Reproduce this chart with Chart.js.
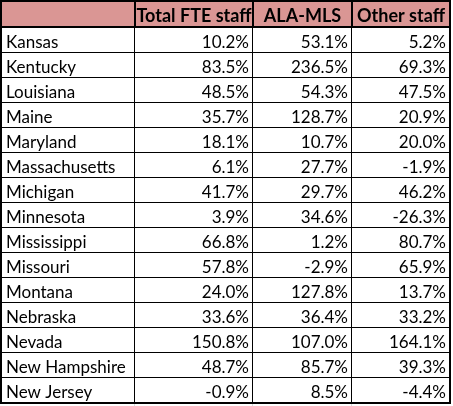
<!DOCTYPE html>
<html>
<head>
<meta charset="utf-8">
<script src="https://cdn.jsdelivr.net/npm/chart.js@4.4.0/dist/chart.umd.min.js"></script>
<style>
html, body { margin: 0; padding: 0; background: #fff; }
</style>
</head>
<body>
<canvas id="table" width="453" height="406"></canvas>
<script>
// 表格数据
const headers = ['', 'Total FTE staff', 'ALA-MLS', 'Other staff'];
const states = ['Kansas', 'Kentucky', 'Louisiana', 'Maine', 'Maryland', 'Massachusetts', 'Michigan',
    'Minnesota', 'Mississippi', 'Missouri', 'Montana', 'Nebraska', 'Nevada', 'New Hampshire', 'New Jersey'];
const totalFte = [10.2, 83.5, 48.5, 35.7, 18.1, 6.1, 41.7, 3.9, 66.8, 57.8, 24.0, 33.6, 150.8, 48.7, -0.9];
const alaMls = [53.1, 236.5, 54.3, 128.7, 10.7, 27.7, 29.7, 34.6, 1.2, -2.9, 127.8, 36.4, 107.0, 85.7, 8.5];
const otherStaff = [5.2, 69.3, 47.5, 20.9, 20.0, -1.9, 46.2, -26.3, 80.7, 65.9, 13.7, 33.2, 164.1, 39.3, -4.4];

// 列边界(x 轴单位)
const colEdges = [0, 134, 252, 351, 449];

// 用坐标轴画表格的插件
const tablePlugin = {
    id: 'tableCells',
    afterDraw(chart, args, opts) {
        const { ctx, scales: { x, y } } = chart;
        const edges = opts.colEdges.map(v => Math.round(x.getPixelForValue(v)));
        const rows = chart.data.labels;
        const rowTop = i => Math.round(y.getPixelForValue(i - 0.5));
        const headBottom = rowTop(0);
        const bottom = rowTop(rows.length);
        const left = edges[0], right = edges[edges.length - 1];

        ctx.save();
        // 表头底色
        ctx.fillStyle = opts.headerColor;
        ctx.fillRect(left, 0, right - left, headBottom);

        // 网格线
        ctx.fillStyle = '#000';
        for (let i = 1; i < rows.length; i++) {
            ctx.fillRect(left, rowTop(i) - 1, right - left, 1);
        }
        for (let c = 1; c < edges.length - 1; c++) {
            ctx.fillRect(edges[c] - 1, headBottom, 1, bottom - headBottom);
            ctx.fillRect(edges[c] - 1, 0, 2, headBottom);
        }
        // 外框与表头下边
        ctx.fillRect(left - 1, 0, right - left + 2, 2);
        ctx.fillRect(left - 1, headBottom - 2, right - left + 2, 2);
        ctx.fillRect(left - 1, 0, 2, bottom + 1);
        ctx.fillRect(right - 1, 0, 2, bottom + 1);
        ctx.fillRect(left - 1, bottom - 1, right - left + 2, 2);

        // 表格外的浅灰网格
        ctx.fillStyle = '#d9d9d9';
        for (let c = 1; c < edges.length - 1; c++) {
            ctx.fillRect(edges[c] - 1, bottom + 1, 1, chart.height - bottom);
        }

        // 表头文字
        ctx.fillStyle = '#000';
        ctx.font = 'bold ' + opts.headerSize + 'px Lato';
        ctx.textAlign = 'center';
        ctx.textBaseline = 'alphabetic';
        opts.headers.forEach((h, c) => {
            ctx.fillText(h, (edges[c] + edges[c + 1]) / 2, headBottom - 6);
        });

        // 单元格文字
        ctx.font = opts.fontSize + 'px Lato';
        rows.forEach((name, i) => {
            const base = rowTop(i + 1) - 5;
            ctx.textAlign = 'left';
            ctx.fillText(name, edges[0] + 5, base);
            ctx.textAlign = 'right';
            opts.columns.forEach((col, c) => {
                ctx.fillText(col[i].toFixed(1) + '%', edges[c + 2] - 4, base);
            });
        });
        ctx.restore();
    }
};

window.onload = function() {
    new Chart(document.getElementById('table'), {
        type: 'bar',
        data: { labels: states, datasets: [] },
        options: {
            responsive: false,
            animation: false,
            events: [],
            layout: { padding: { top: 28, left: 1, right: 3, bottom: 3 } },
            scales: {
                x: { type: 'linear', offset: false, min: colEdges[0], max: colEdges[colEdges.length - 1], display: false },
                y: { type: 'category', offset: true, display: false }
            },
            plugins: {
                legend: { display: false },
                tooltip: { enabled: false },
                tableCells: {
                    headers: headers,
                    columns: [totalFte, alaMls, otherStaff],
                    colEdges: colEdges,
                    headerColor: '#DA9694',
                    fontSize: 17,
                    headerSize: 18
                }
            }
        },
        plugins: [tablePlugin]
    });
};
</script>
</body>
</html>
